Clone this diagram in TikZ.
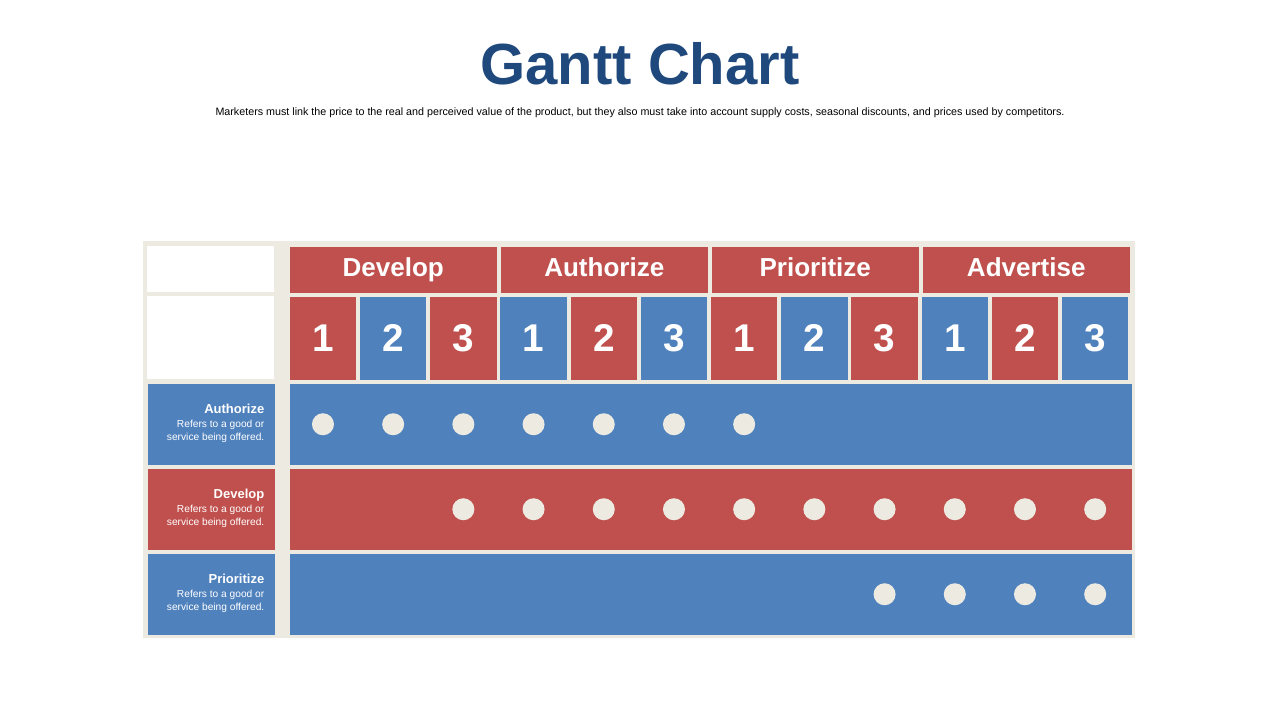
\documentclass[tikz,border=0pt]{standalone}
\usepackage{fontspec}
\setmainfont{Liberation Sans}
\usetikzlibrary{positioning}
\definecolor{gred}{HTML}{C0504D}
\definecolor{gblue}{HTML}{4F81BD}
\definecolor{gframe}{HTML}{EDEAE2}
\definecolor{gtitle}{HTML}{1F497D}
\tikzset{
  cell/.style={draw=none, inner sep=0pt, anchor=north west, text=white, font=\bfseries},
  dot/.style={circle, fill=gframe, minimum size=0.22cm, inner sep=0pt},
}
\begin{document}
\begin{tikzpicture}[x=0.01cm, y=-0.01cm]
    \useasboundingbox[fill=white] (0,0) rectangle (1280,720);
    % Title
    \node[font=\bfseries\fontsize{16.5}{20}\selectfont, text=gtitle] (title) at (640,64) {Gantt Chart};
    \node[font=\fontsize{3.05}{4}\selectfont] (sub) at (640,113) {Marketers must link the price to the real and perceived value of the product, but they also must take into account supply costs, seasonal discounts, and prices used by competitors.};
    % Frame
    \fill[gframe] (143,241) rectangle (1135,638);
    \fill[white] (147,246) rectangle (274,292);
    \fill[white] (147,296) rectangle (274,379);
    % Phase headers
    \foreach \name [count=\i from 0] in {Develop, Authorize, Prioritize, Advertise}
        \node[cell, fill=gred, minimum width=2.07cm, minimum height=0.46cm, text height=0.18cm, text depth=0.05cm, font=\bfseries\fontsize{7.4}{9}\selectfont]
            (h\i) at (289+\i*211,246) {\name};
    % Sub-steps
    \foreach \k in {0,...,11} {
        \pgfmathsetmacro{\num}{int(mod(\k,3)+1)}
        \pgfmathsetmacro{\col}{mod(\k,2)==0 ? "gred" : "gblue"}
        \node[cell, fill=\col, minimum width=0.665cm, minimum height=0.83cm, font=\bfseries\fontsize{11}{12}\selectfont]
            (n\k) at (289+\k*70.2,296) {\num};
    }
    % Rows
    \foreach \lab/\col/\y [count=\r] in {Authorize/gblue/383, Develop/gred/468, Prioritize/gblue/553} {
        \node[cell, fill=\col, minimum width=1.27cm, minimum height=0.81cm] (l\r) at (147,\y) {};
        \node[text=white, align=right, anchor=north east, inner sep=0pt, font=\fontsize{2.9}{3.6}\selectfont] (t\r) at (265,\y+20)
            {{\bfseries\fontsize{3.7}{5}\selectfont \lab}\\[0.5pt]
             Refers to a good or\\
             service being offered.};
        \node[cell, fill=\col, minimum width=8.42cm, minimum height=0.81cm] (b\r) at (289,\y) {};
    }
    % Dots
    \foreach \k in {0,...,6}  \node[dot] (da\k) at (n\k.center |- b1.center) {};
    \foreach \k in {2,...,11} \node[dot] (db\k) at (n\k.center |- b2.center) {};
    \foreach \k in {8,...,11} \node[dot] (dc\k) at (n\k.center |- b3.center) {};
\end{tikzpicture}
\end{document}
